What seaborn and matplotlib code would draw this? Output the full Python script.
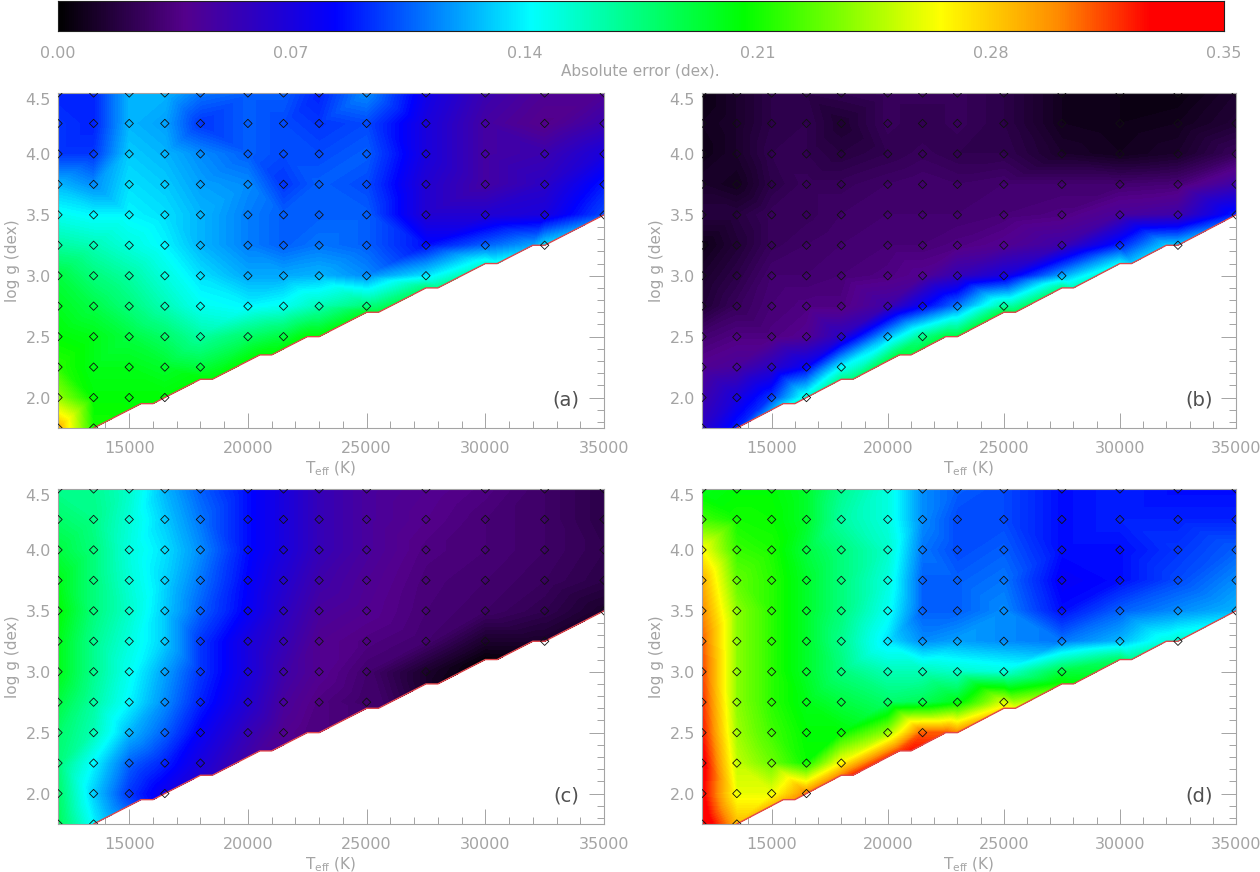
import numpy as np
import pandas as pd
import matplotlib
matplotlib.use("Agg")
import matplotlib.pyplot as plt
import matplotlib.tri as mtri
from matplotlib.colors import LinearSegmentedColormap
from matplotlib.ticker import MultipleLocator
import seaborn as sns

teff = [12000, 13500, 15000, 16500, 18000, 20000, 21500, 23000, 25000, 27500, 30000, 32500, 35000]
logg = [4.5, 4.25, 4.0, 3.75, 3.5, 3.25, 3.0, 2.75, 2.5, 2.25, 2.0, 1.75]

# lower edge of the grid, points that are not grid points
edge_teff = [15500, 16000, 18000, 18500, 20500, 21000, 22500, 23000, 25000, 25500, 27500, 28000, 30000, 30500, 32000]
edge_logg = [1.95, 1.95, 2.15, 2.15, 2.35, 2.35, 2.5, 2.5, 2.7, 2.7, 2.9, 2.9, 3.1, 3.1, 3.25]

# errors, one row per log g (a row stops where the grid stops)
err_a = [
    [.090, .090, .125, .125, .110, .105, .105, .090, .115, .075, .052, .042, .042],
    [.095, .090, .125, .120, .095, .105, .100, .095, .100, .070, .047, .037, .052],
    [.095, .095, .130, .125, .115, .105, .100, .100, .105, .070, .047, .052, .070],
    [.125, .115, .135, .130, .120, .115, .095, .105, .100, .065, .047, .060, .088],
    [.145, .140, .140, .135, .125, .112, .105, .105, .105, .065, .065, .070, .100],
    [.165, .160, .150, .140, .125, .112, .105, .110, .105, .085, .105, .135],
    [.190, .175, .165, .150, .135, .122, .122, .125, .115, .135],
    [.198, .188, .175, .160, .145, .140, .145, .160, .175],
    [.205, .200, .190, .180, .165, .180, .190],
    [.215, .200, .200, .195, .190],
    [.240, .205, .205, .205],
    [.290, .210],
]
edge_a = [.205, .205, .205, .205, .205, .205, .205, .205, .195, .190, .175, .170, .150, .145, .120]

err_b = [
    [.005, .012, .020, .020, .022, .025, .025, .025, .020, .008, .006, .004, .012],
    [.008, .012, .020, .022, .014, .025, .022, .025, .020, .008, .006, .008, .015],
    [.006, .012, .022, .022, .018, .022, .025, .022, .022, .012, .008, .012, .025],
    [.012, .008, .020, .025, .025, .028, .030, .028, .030, .030, .030, .032, .050],
    [.018, .018, .025, .025, .028, .030, .030, .030, .032, .035, .045, .050, .090],
    [.006, .015, .025, .028, .030, .032, .032, .035, .040, .050, .090, .130],
    [.012, .020, .030, .030, .032, .035, .040, .055, .070, .120],
    [.015, .025, .032, .035, .035, .050, .080, .110, .165],
    [.030, .035, .035, .040, .060, .125, .170],
    [.040, .045, .060, .080, .140],
    [.050, .070, .095, .150],
    [.060, .090],
]
edge_b = [.130, .150, .170, .175, .190, .190, .190, .190, .190, .185, .170, .160, .140, .130, .130]

err_c = [
    [.170, .170, .155, .125, .105, .085, .070, .055, .045, .040, .035, .028, .020],
    [.180, .172, .152, .130, .110, .085, .070, .055, .045, .038, .032, .028, .020],
    [.190, .175, .150, .135, .115, .085, .070, .055, .045, .035, .032, .028, .022],
    [.200, .175, .152, .132, .110, .082, .065, .050, .042, .033, .030, .026, .020],
    [.205, .175, .155, .130, .105, .080, .060, .045, .040, .032, .028, .022, .012],
    [.200, .170, .150, .130, .095, .070, .055, .040, .035, .030, .012, .012],
    [.200, .170, .145, .120, .095, .070, .050, .040, .030, .012],
    [.190, .165, .140, .115, .090, .065, .045, .035, .028],
    [.180, .160, .125, .105, .080, .055, .040],
    [.175, .140, .105, .090, .070],
    [.180, .130, .095, .075],
    [.185, .140],
]
edge_c = [.090, .080, .065, .060, .045, .045, .035, .035, .030, .030, .012, .008, .002, .003, .012]

err_d = [
    [.200, .205, .205, .195, .170, .150, .115, .105, .100, .085, .090, .085, .085],
    [.220, .210, .208, .195, .165, .150, .115, .100, .100, .085, .090, .090, .090],
    [.265, .218, .212, .190, .175, .155, .110, .100, .105, .085, .085, .095, .105],
    [.290, .228, .215, .195, .175, .150, .105, .105, .110, .080, .085, .100, .115],
    [.300, .238, .215, .195, .175, .145, .105, .105, .115, .085, .105, .115, .125],
    [.310, .238, .215, .195, .170, .135, .115, .120, .115, .110, .125, .155],
    [.315, .238, .215, .195, .175, .160, .160, .155, .150, .190],
    [.320, .238, .215, .200, .190, .180, .185, .200, .255],
    [.325, .242, .220, .205, .205, .240, .310],
    [.335, .250, .230, .208, .265],
    [.330, .260, .260, .300],
    [.345, .285],
]
edge_d = [.285, .295, .300, .320, .315, .325, .310, .300, .270, .260, .210, .205, .180, .170, .150]

panels = [
    ("(a)", err_a, edge_a, 58, 93),
    ("(b)", err_b, edge_b, 702, 93),
    ("(c)", err_c, edge_c, 58, 489),
    ("(d)", err_d, edge_d, 702, 489),
]
cbar_ticks = [0.00, 0.07, 0.14, 0.21, 0.28, 0.35]

W, H = 1260, 872
GREY = "#a4a4a4"
VMAX = 0.35

sns.set_style("white")
plt.rcParams["font.family"] = ["DejaVu Sans"]
plt.rcParams["mathtext.default"] = "regular"

cmap = LinearSegmentedColormap.from_list("err", [
    (0.0, "#000000"),
    (0.038 / VMAX, "#54008c"),
    (0.083 / VMAX, "#0000ff"),
    (0.142 / VMAX, "#00ffff"),
    (0.206 / VMAX, "#00ff00"),
    (0.265 / VMAX, "#ffff00"),
    (0.300 / VMAX, "#ff8c00"),
    (0.328 / VMAX, "#ff0000"),
    (1.0, "#ff0000"),
], N=512)


def px_axes(fig, x0, y0, w, h):
    return fig.add_axes([x0 / W, 1 - (y0 + h) / H, w / W, h / H])


# lower boundary line
line_teff = [12000, 13500] + edge_teff[:2] + [16500] + edge_teff[2:] + [32500, 35000]
line_logg = [1.75, 1.75] + edge_logg[:2] + [2.0] + edge_logg[2:] + [3.25, 3.5]


def grid_frame(rows):
    recs = []
    for g, row in zip(logg, rows):
        for t, v in zip(teff, row):
            recs.append((t, g, v))
    return pd.DataFrame(recs, columns=["teff", "logg", "err"])


def draw_panel(ax, label, rows, edge):
    df = grid_frame(rows)
    x = np.r_[df["teff"].values, edge_teff].astype(float)
    y = np.r_[df["logg"].values, edge_logg]
    z = np.r_[df["err"].values, edge]

    # triangulate on scaled axes so the cells are about square
    tri = mtri.Triangulation(x / 6000, y)
    cx = x[tri.triangles].mean(axis=1)
    cy = y[tri.triangles].mean(axis=1)
    keep = cy > np.interp(cx, line_teff, line_logg) + 1e-6
    tri = mtri.Triangulation(x, y, tri.triangles[keep])

    levels = np.linspace(0, VMAX, 176)
    ax.tricontourf(tri, z, levels=levels, cmap=cmap, vmin=0, vmax=VMAX, extend="both")

    sns.lineplot(x=line_teff[1:], y=line_logg[1:], ax=ax, color="#e0484c", lw=1.0,
                 sort=False, estimator=None, legend=False, zorder=3)
    sns.scatterplot(data=df, x="teff", y="logg", ax=ax, marker="D", s=18, facecolor="none",
                    edgecolor="#101010", linewidth=0.6, legend=False, zorder=4)

    ax.set_xlim(12000, 35000)
    ax.set_ylim(1.75, 4.5)
    ax.xaxis.set_major_locator(MultipleLocator(5000))
    ax.xaxis.set_minor_locator(MultipleLocator(1000))
    ax.yaxis.set_major_locator(MultipleLocator(0.5))
    ax.yaxis.set_minor_locator(MultipleLocator(0.1))
    ax.tick_params(which="major", direction="in", length=11, width=0.7, color=GREY,
                   labelcolor=GREY, labelsize=11.5, bottom=True, left=True, right=True, pad=5)
    ax.tick_params(which="minor", direction="in", length=5, width=0.7, color=GREY,
                   bottom=True, left=True, right=True)
    ax.tick_params(axis="x", which="major", pad=9)
    ax.set_yticks([2.0, 2.5, 3.0, 3.5, 4.0, 4.5])
    ylabels = ax.set_yticklabels(["2.0", "2.5", "3.0", "3.5", "4.0", "4.5"])
    ylabels[-1].set_va("top")
    ax.set_xticks([15000, 20000, 25000, 30000, 35000])
    ax.set_xlabel(r"T$_{eff}$ (K)", color=GREY, fontsize=11, labelpad=3)
    ax.set_ylabel("log g (dex)", color=GREY, fontsize=11, labelpad=4)
    for side in ax.spines.values():
        side.set_color(GREY)
        side.set_linewidth(0.8)
    ax.text(33400, 1.98, label, fontsize=14, color="#505050", ha="center", va="center")


fig = plt.figure(figsize=(W / 100, H / 100), dpi=100, facecolor="white")

# colour bar
cax = px_axes(fig, 58, 1, 1166, 30)
ramp = np.linspace(0, VMAX, 512).reshape(1, -1)
sns.heatmap(ramp, ax=cax, cmap=cmap, vmin=0, vmax=VMAX, cbar=False, xticklabels=False, yticklabels=False)
cax.set_xticks([v / VMAX * 512 for v in cbar_ticks])
cax.set_xticklabels(["%.2f" % v for v in cbar_ticks], color=GREY, fontsize=11.5)
cax.tick_params(axis="x", length=0, pad=11)
for side in cax.spines.values():
    side.set_visible(True)
    side.set_color("#202020")
    side.set_linewidth(0.8)
fig.text(640 / W, 1 - 71 / H, "Absolute error (dex).", color=GREY, fontsize=11, ha="center", va="center")

for label, rows, edge, x0, y0 in panels:
    w = 546 if x0 == 58 else 534
    ax = px_axes(fig, x0, y0, w, 335)
    draw_panel(ax, label, rows, edge)

fig.savefig("out.png", dpi=100)
